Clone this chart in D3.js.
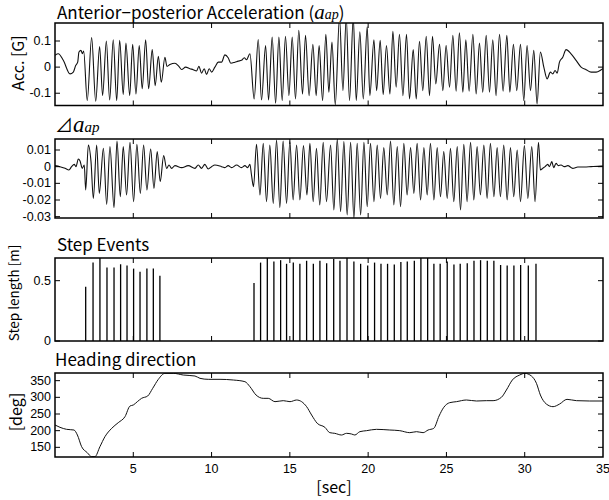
<!DOCTYPE html>
<html>
<head>
<meta charset="utf-8">
<script src="https://cdn.jsdelivr.net/npm/d3@7"></script>
<style>
  body { margin: 0; background: #fff; }
  svg { display: block; }
  .tick-label { font-family: "Liberation Sans", Arial, sans-serif; font-size: 12.5px; fill: #000; }
  .title { font-family: "Noto Sans CJK JP", "Noto Sans", sans-serif; font-size: 17px; fill: #000; }
  .ylab { font-family: "Noto Sans CJK JP", "Noto Sans", sans-serif; fill: #000; }
</style>
</head>
<body>
<svg width="609" height="500"></svg>
<script>
// Gait data (time in sec)

// Anterior-posterior acceleration [G] (peaks / troughs / wiggles)
const accT = [0, 0.21, 0.53, 0.96, 1.17, 1.32, 1.45, 1.53, 1.66, 1.75, 1.83,
  2.06, 2.34, 2.6, 2.85, 3.04, 3.28, 3.49, 3.72, 3.94, 4.13, 4.36, 4.53, 4.77, 4.96,
  5.17, 5.38, 5.57, 5.79, 5.98, 6.21, 6.4, 6.6, 6.79, 7.02, 7.15, 7.34, 7.66, 7.91,
  8.09, 8.34, 8.62, 8.83, 9.04, 9.19, 9.36, 9.53, 9.68, 9.85, 10.0, 10.21, 10.43,
  10.64, 10.85, 11.06, 11.23, 11.49, 11.7, 11.91, 12.09, 12.23, 12.45,
  12.72, 12.98, 13.19, 13.45, 13.64, 13.87, 14.09, 14.3, 14.51, 14.72, 14.94, 15.15,
  15.36, 15.57, 15.81, 16.0, 16.23, 16.47, 16.68, 16.87, 17.09, 17.3, 17.49, 17.69,
  17.9, 18.17, 18.39, 18.6, 18.81, 19.05, 19.24, 19.47, 19.69, 19.94, 20.11, 20.37,
  20.54, 20.77, 20.96, 21.17, 21.39, 21.58, 21.79, 22.0, 22.22, 22.45, 22.64, 22.88,
  23.07, 23.28, 23.49, 23.71, 23.92, 24.11, 24.32, 24.56, 24.77, 24.98, 25.2, 25.41,
  25.62, 25.83, 26.05, 26.24, 26.45, 26.69, 26.9, 27.11, 27.32, 27.54, 27.75, 27.96,
  28.17, 28.39, 28.62, 28.86, 29.05, 29.28, 29.49, 29.73, 29.94, 30.15, 30.37, 30.58,
  30.79, 31.0, 31.22, 31.43, 31.64, 31.79, 31.94, 32.07, 32.22, 32.43, 32.64, 32.96,
  33.28, 33.6, 33.92, 34.24, 34.56, 34.89, 35.0];
const accV = [0.045, 0.051, 0.026, -0.026, -0.019, 0.006, 0.019, 0.058, 0.064, 0.051, 0.062,
  -0.128, 0.113, -0.131, 0.079, -0.109, 0.1, -0.126, 0.105, -0.128, 0.103, -0.105, 0.092, -0.109, 0.087,
  -0.103, 0.083, -0.083, 0.105, -0.083, 0.067, -0.071, 0.041, -0.058, 0.038, 0.003, 0.01, 0.015, 0.003,
  -0.009, 0.0, -0.006, -0.01, -0.015, 0.003, -0.023, -0.006, -0.028, -0.006, -0.019, 0.0, 0.019,
  0.019, 0.047, 0.036, 0.015, 0.019, 0.023, 0.026, 0.036, 0.028, 0.051,
  -0.122, 0.106, -0.126, 0.083, -0.126, 0.115, -0.138, 0.115, -0.128, 0.118, -0.109, 0.115,
  -0.122, 0.141, -0.103, 0.122, -0.109, 0.087, -0.109, 0.083, -0.128, 0.126, -0.096, 0.096,
  -0.144, 0.19, -0.09, 0.19, -0.128, 0.19, -0.128, 0.135, -0.122, 0.154, -0.109, 0.105,
  -0.09, 0.103, -0.105, 0.083, -0.103, 0.137, -0.077, 0.126, -0.109, 0.126, -0.122, 0.067,
  -0.122, 0.099, -0.09, 0.118, -0.109, 0.118, -0.064, 0.087, -0.09, 0.083, -0.077, 0.122,
  -0.092, 0.131, -0.096, 0.105, -0.092, 0.126, -0.103, 0.092, -0.096, 0.122, -0.096, 0.105,
  -0.109, 0.126, -0.092, 0.122, -0.096, 0.087, -0.09, 0.087, -0.128, 0.083, -0.09, 0.064,
  -0.141, 0.058, 0.0, -0.045, -0.019, -0.026, -0.013, -0.023, 0.019, 0.038, 0.067, 0.051,
  0.026, 0.0, -0.01, -0.019, -0.019, -0.01, -0.006];

// Difference of acceleration
const dAccT = [0, 0.32, 0.64, 0.89, 1.06, 1.23, 1.34, 1.49, 1.6, 1.74, 1.87,
  1.96, 2.13, 2.3, 2.45, 2.66, 2.83, 3.09, 3.3, 3.51, 3.77, 3.96, 4.17, 4.36, 4.57,
  4.79, 5.02, 5.23, 5.45, 5.66, 5.87, 6.11, 6.32, 6.53, 6.72, 6.94, 7.13, 7.28, 7.45,
  7.66, 8.09, 8.51, 8.94, 9.15, 9.36, 9.57, 9.79, 10.0, 10.21, 10.64, 10.85, 11.06,
  11.28, 11.6, 11.91, 12.13, 12.3, 12.45, 12.55, 12.68,
  12.87, 13.09, 13.3, 13.51, 13.72, 13.94, 14.15, 14.36, 14.57, 14.79, 15.0, 15.21,
  15.43, 15.64, 15.87, 16.09, 16.28, 16.49, 16.7, 16.91, 17.13, 17.34, 17.6, 17.81,
  18.03, 18.24, 18.45, 18.66, 18.88, 19.09, 19.3, 19.52, 19.73, 19.94, 20.15, 20.37,
  20.58, 20.79, 21.0, 21.22, 21.43, 21.64, 21.86, 22.07, 22.28, 22.49, 22.71, 22.92,
  23.13, 23.35, 23.56, 23.77, 23.98, 24.2, 24.41, 24.62, 24.83, 25.05, 25.26, 25.47,
  25.69, 25.9, 26.11, 26.32, 26.54, 26.75, 26.96, 27.17, 27.39, 27.6, 27.81, 28.03,
  28.24, 28.45, 28.66, 28.88, 29.09, 29.3, 29.52, 29.73, 29.98, 30.2, 30.45, 30.66,
  30.88, 31.0, 31.15, 31.3, 31.47, 31.58, 31.73, 31.85, 32.0, 32.15, 32.32, 32.53,
  32.75, 33.07, 33.39, 33.81, 34.24, 34.66, 35.0];
const dAccV = [0.0006, 0.0, -0.001, -0.002, 0.0, 0.0014, 0.0, 0.0046, 0.0034, -0.001, 0.001,
  -0.014, 0.013, 0.003, -0.019, 0.013, -0.016, 0.011, -0.0226, 0.012, -0.0246, 0.0154, -0.018, 0.012, -0.017,
  0.0146, -0.021, 0.0134, -0.016, 0.013, -0.014, 0.0106, -0.013, 0.009, -0.009, 0.0066, -0.001, 0.001, -0.001,
  0.0006, -0.0006, 0.0006, -0.001, 0.001, -0.001, 0.0014, -0.0014, 0.0, 0.001, 0.0, -0.0006, 0.0006,
  -0.0006, 0.001, -0.0006, 0.0006, -0.0006, 0.0014, -0.005, -0.012,
  0.0134, -0.017, 0.014, -0.021, 0.013, -0.022, 0.016, -0.0246, 0.0154, -0.022, 0.015, -0.02,
  0.013, -0.02, 0.0126, -0.017, 0.014, -0.021, 0.011, -0.023, 0.0146, -0.021, 0.013, -0.026,
  0.0166, -0.027, 0.015, -0.029, 0.0146, -0.031, 0.014, -0.029, 0.0146, -0.024, 0.014, -0.021,
  0.013, -0.019, 0.0114, -0.017, 0.0154, -0.023, 0.012, -0.024, 0.014, -0.017, 0.0114, -0.016,
  0.014, -0.02, 0.0114, -0.017, 0.014, -0.02, 0.0114, -0.018, 0.009, -0.019, 0.011, -0.021,
  0.012, -0.026, 0.0134, -0.021, 0.0146, -0.02, 0.012, -0.017, 0.013, -0.019, 0.014, -0.018,
  0.0114, -0.018, 0.013, -0.02, 0.0114, -0.018, 0.01, -0.021, 0.0126, -0.019, 0.012, -0.021,
  0.0146, -0.002, -0.001, 0.0, 0.0014, 0.0, 0.003, -0.0006, 0.002, 0.0006, 0.001, 0.0,
  0.0006, -0.001, -0.0002, -0.0002, 0.0, 0.0002, 0.0004];

// Step events: time [sec] and step length [m]
const stepT = [1.96, 2.43, 2.87, 3.32, 3.77, 4.19, 4.6, 5.02, 5.43, 5.87, 6.28, 6.7,
  12.71, 13.13, 13.56, 13.98, 14.41, 14.79, 15.22, 15.64, 16.07, 16.5, 16.92, 17.35,
  17.8, 18.2, 18.65, 19.09, 19.52, 19.97, 20.41, 20.82, 21.24, 21.67, 22.09, 22.5,
  22.95, 23.37, 23.8, 24.2, 24.6, 25.05, 25.48, 25.88, 26.33, 26.76, 27.18, 27.61,
  28.03, 28.46, 28.88, 29.31, 29.74, 30.23, 30.72];
const stepLen = [0.45, 0.65, 0.7, 0.61, 0.61, 0.636, 0.625, 0.6, 0.575, 0.6, 0.6, 0.54,
  0.48, 0.65, 0.7, 0.66, 0.67, 0.64, 0.65, 0.64, 0.665, 0.64, 0.665, 0.645,
  0.68, 0.665, 0.69, 0.66, 0.64, 0.625, 0.65, 0.64, 0.64, 0.635, 0.655, 0.66,
  0.665, 0.69, 0.69, 0.64, 0.64, 0.66, 0.635, 0.64, 0.645, 0.665, 0.67, 0.665,
  0.665, 0.63, 0.625, 0.625, 0.63, 0.625, 0.64];

// Heading direction [deg]
const headT = [0, 0.32, 0.74, 1.21, 1.43, 1.7, 2.06, 2.34, 2.55, 2.87, 3.19, 3.62, 4.04,
  4.47, 4.79, 5.0, 5.26, 5.53, 5.92, 6.24, 6.6, 7.02, 7.56, 8.19, 8.94, 9.26, 9.79,
  10.54, 11.39, 12.13, 12.45, 12.84, 13.3, 13.62, 14.05, 14.58, 15.01, 15.43, 15.75,
  16.07, 16.39, 16.75, 17.24, 17.55, 17.87, 18.3, 18.62, 18.94, 19.15, 19.47, 19.9,
  20.53, 21.38, 22.02, 22.66, 23.09, 23.51, 23.83, 24.19, 24.53, 24.83, 25.21, 25.64,
  26.28, 26.92, 27.55, 27.98, 28.51, 28.83, 29.21, 29.68, 30.0, 30.43, 30.75, 31.0,
  31.38, 31.81, 32.23, 32.7, 33.3, 34.15, 34.9, 35.0];
const headV = [217, 210, 204, 202, 187, 152, 134, 122, 122, 152, 182, 207, 224,
  242, 274, 277, 287, 297, 304, 327, 354, 372, 372, 367, 364, 357, 354,
  354, 352, 347, 332, 307, 297, 297, 287, 290, 287, 292, 287,
  272, 247, 222, 210, 194, 192, 187, 192, 190, 187, 197, 200,
  204, 202, 200, 194, 197, 194, 202, 207, 244, 270, 284, 287,
  292, 289, 290, 290, 300, 322, 352, 367, 372, 364, 342, 307,
  280, 272, 280, 294, 290, 289, 289, 289];

// Axis ticks
const xTicks = [5, 10, 15, 20, 25, 30, 35];
const accTicks = [-0.1, 0, 0.1];
const dAccTicks = [-0.03, -0.02, -0.01, 0, 0.01];
const stepTicks = [0, 0.5];
const headTicks = [150, 200, 250, 300, 350];

const svg = d3.select("svg");

const x = d3.scaleLinear().domain([0, 35]).range([55, 603]);

// Panel definitions: vertical extent + y domain
const panels = [
  { id: "acc", top: 23, bottom: 105.5, domain: [-0.147, 0.169], ticks: accTicks },
  { id: "dacc", top: 139, bottom: 218, domain: [-0.0308, 0.0166], ticks: dAccTicks },
  { id: "step", top: 258, bottom: 341, domain: [0, 0.688], ticks: stepTicks },
  { id: "head", top: 373, bottom: 457, domain: [121, 373], ticks: headTicks }
];

panels.forEach((p) => {
  p.y = d3.scaleLinear().domain(p.domain).range([p.bottom, p.top]);
  p.g = svg.append("g");

  svg.append("clipPath").attr("id", "clip-" + p.id)
    .append("rect")
    .attr("x", x(0)).attr("y", p.top)
    .attr("width", x(35) - x(0)).attr("height", p.bottom - p.top);

  p.plot = p.g.append("g").attr("clip-path", `url(#clip-${p.id})`);
});

function drawFrame(p, showXLabels) {
  const g = p.g;
  const tl = 5;

  // x ticks (inward, top and bottom)
  xTicks.filter((t) => t < 35).forEach((t) => {
    g.append("line").attr("x1", x(t)).attr("x2", x(t))
      .attr("y1", p.bottom).attr("y2", p.bottom - tl)
      .attr("stroke", "#000").attr("stroke-width", 1);
    g.append("line").attr("x1", x(t)).attr("x2", x(t))
      .attr("y1", p.top).attr("y2", p.top + tl)
      .attr("stroke", "#000").attr("stroke-width", 1);
  });

  // y ticks (inward, left and right) + labels
  p.ticks.forEach((t) => {
    const yy = p.y(t);
    g.append("line").attr("x1", x(0)).attr("x2", x(0) + tl)
      .attr("y1", yy).attr("y2", yy).attr("stroke", "#000");
    g.append("line").attr("x1", x(35)).attr("x2", x(35) - tl)
      .attr("y1", yy).attr("y2", yy).attr("stroke", "#000");
    g.append("text").attr("class", "tick-label")
      .attr("x", x(0) - 4).attr("y", yy)
      .attr("text-anchor", "end").attr("dominant-baseline", "central")
      .text(t);
  });

  if (showXLabels) {
    xTicks.forEach((t) => {
      g.append("text").attr("class", "tick-label")
        .attr("x", x(t)).attr("y", p.bottom + 12)
        .attr("text-anchor", "middle").attr("dominant-baseline", "central")
        .text(t);
    });
  }

  g.append("rect")
    .attr("x", x(0)).attr("y", p.top)
    .attr("width", x(35) - x(0)).attr("height", p.bottom - p.top)
    .attr("fill", "none").attr("stroke", "#000").attr("stroke-width", 1.5);
}

const lineOf = (p) => d3.line()
  .x((d) => x(d[0]))
  .y((d) => p.y(d[1]))
  .curve(d3.curveMonotoneX);

// ---- Panel 1: acceleration ----
const pAcc = panels[0];
pAcc.plot.append("path")
  .datum(d3.zip(accT, accV))
  .attr("d", lineOf(pAcc))
  .attr("fill", "none").attr("stroke", "#111").attr("stroke-width", 1.1);

// ---- Panel 2: delta acceleration ----
const pD = panels[1];
pD.plot.append("path")
  .datum(d3.zip(dAccT, dAccV))
  .attr("d", lineOf(pD))
  .attr("fill", "none").attr("stroke", "#111").attr("stroke-width", 1.1);

// ---- Panel 3: step events ----
const pS = panels[2];
pS.plot.selectAll("line.step")
  .data(d3.zip(stepT, stepLen))
  .join("line")
  .attr("class", "step")
  .attr("x1", (d) => x(d[0])).attr("x2", (d) => x(d[0]))
  .attr("y1", pS.y(0)).attr("y2", (d) => pS.y(d[1]))
  .attr("stroke", "#000").attr("stroke-width", 1.3);

// ---- Panel 4: heading ----
const pH = panels[3];
pH.plot.append("path")
  .datum(d3.zip(headT, headV))
  .attr("d", lineOf(pH))
  .attr("fill", "none").attr("stroke", "#111").attr("stroke-width", 1);

panels.forEach((p, i) => drawFrame(p, i === 3));

// ---- Titles ----
const t1 = svg.append("text").attr("class", "title").attr("x", 57).attr("y", 19);
t1.append("tspan").text("Anterior\u2212posterior Acceleration (");
t1.append("tspan").attr("font-family", "Liberation Serif, serif").attr("font-style", "italic")
  .attr("font-size", 21).text("a");
t1.append("tspan").attr("font-family", "Liberation Serif, serif").attr("font-style", "italic")
  .attr("font-size", 14).text("ap");
t1.append("tspan").text(")");

const t2 = svg.append("text").attr("class", "title").attr("x", 55).attr("y", 132);
t2.append("tspan").attr("font-size", 18).text("\u22BF");
t2.append("tspan").attr("font-family", "Liberation Serif, serif").attr("font-style", "italic")
  .attr("font-size", 23).text("a");
t2.append("tspan").attr("font-family", "Liberation Serif, serif").attr("font-style", "italic")
  .attr("font-size", 15).text("ap");

svg.append("text").attr("class", "title").attr("x", 57).attr("y", 251).text("Step Events");
svg.append("text").attr("class", "title").attr("x", 55).attr("y", 366).text("Heading direction");

// ---- Axis labels ----
svg.append("text").attr("class", "ylab").attr("font-size", 16)
  .attr("transform", "translate(17,63) rotate(-90)")
  .attr("text-anchor", "middle").attr("dominant-baseline", "central")
  .text("Acc. [G]");
svg.append("text").attr("class", "ylab").attr("font-size", 13.5)
  .attr("transform", "translate(13,293) rotate(-90)")
  .attr("text-anchor", "middle").attr("dominant-baseline", "central")
  .text("Step length [m]");
svg.append("text").attr("class", "ylab").attr("font-size", 16)
  .attr("transform", "translate(15,412) rotate(-90)")
  .attr("text-anchor", "middle").attr("dominant-baseline", "central")
  .text("[deg]");
svg.append("text").attr("class", "ylab").attr("font-size", 16)
  .attr("x", 334).attr("y", 486)
  .attr("text-anchor", "middle").attr("dominant-baseline", "central")
  .text("[sec]");
</script>
</body>
</html>
